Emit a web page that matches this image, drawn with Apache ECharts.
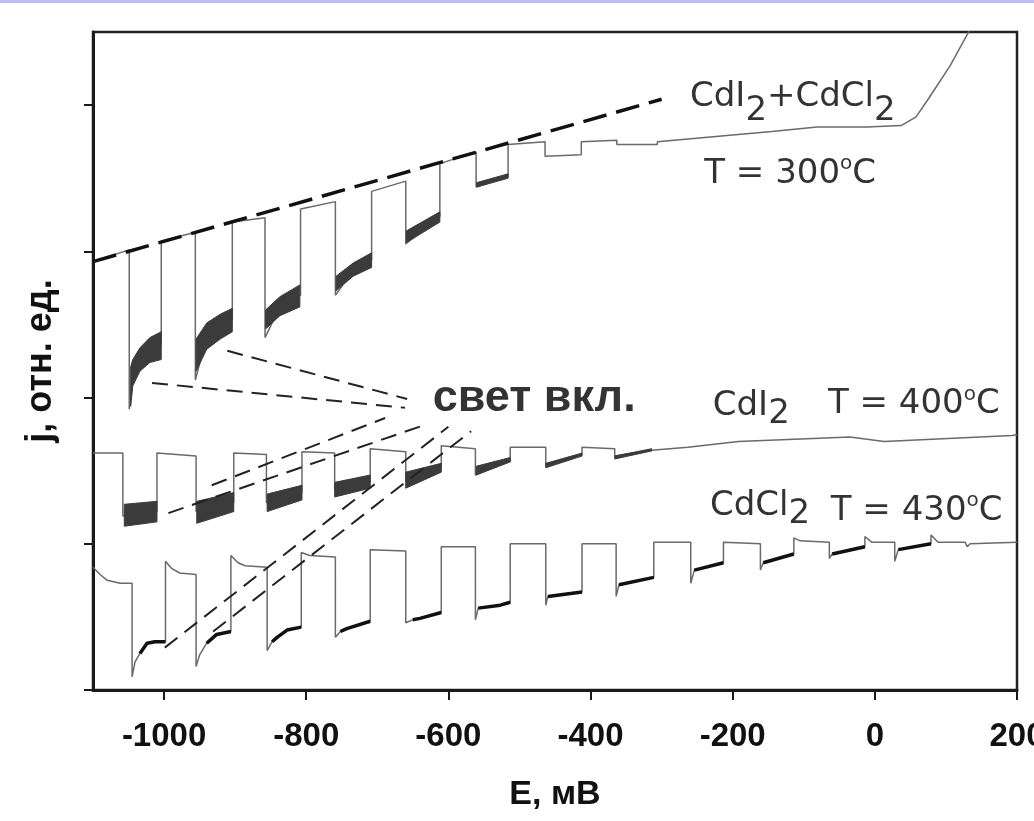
<!DOCTYPE html>
<html>
<head>
<meta charset="utf-8">
<script src="https://cdn.jsdelivr.net/npm/echarts@6/dist/echarts.min.js"></script>
<style>
  html, body { margin: 0; padding: 0; background: #fff; }
  #chart { width: 1034px; height: 821px; }
</style>
</head>
<body>
<div id="chart"></div>
<script>
// axis ticks
var xTicks = [-1000, -800, -600, -400, -200, 0, 200];
var yTicks = [0, 1, 2, 3, 4];

// CdI2+CdCl2, T = 300°C  (E, j)
var trace300 = [[-1100, 2.93], [-1049, 3.01], [-1049, 1.92], [-1044, 2.17], [-1034, 2.26], [-1020, 2.33],
  [-1004, 2.36], [-1004, 3.07], [-956, 3.13], [-956, 2.12], [-940, 2.42], [-921, 2.49], [-904, 2.53],
  [-904, 3.20], [-858, 3.23], [-858, 2.41], [-837, 2.62], [-808, 2.70], [-808, 3.29], [-759, 3.34],
  [-759, 2.70], [-734, 2.87], [-708, 2.94], [-708, 3.41], [-660, 3.48], [-660, 3.05], [-612, 3.24],
  [-612, 3.60], [-561, 3.68], [-561, 3.44], [-516, 3.51], [-516, 3.73], [-464, 3.75], [-464, 3.65],
  [-413, 3.66], [-413, 3.75], [-363, 3.76], [-363, 3.73], [-306, 3.73], [-306, 3.75], [-145, 3.82],
  [-81, 3.85], [-11, 3.85], [37, 3.86], [58, 3.92], [75, 4.04], [106, 4.27], [133, 4.51], [148, 4.64]];
// light-on noise bands: [E, low, high]
var bands300 = [
  [[-1047, 1.94, 2.21], [-1044, 2.08, 2.26], [-1034, 2.18, 2.34], [-1020, 2.24, 2.41], [-1004, 2.26, 2.45]],
  [[-955, 2.18, 2.40], [-940, 2.33, 2.51], [-921, 2.40, 2.57], [-904, 2.45, 2.61]],
  [[-857, 2.47, 2.60], [-837, 2.56, 2.69], [-809, 2.62, 2.77]],
  [[-758, 2.73, 2.83], [-734, 2.83, 2.92], [-708, 2.89, 2.99]],
  [[-659, 3.06, 3.14], [-612, 3.20, 3.27]],
  [[-560, 3.44, 3.47], [-516, 3.50, 3.53]]
];
var envelope300 = [[-1100, 2.93], [-300, 4.04]];

// CdI2, T = 400°C
var trace400 = [[-1100, 1.62], [-1058, 1.62], [-1058, 1.19], [-1010, 1.22], [-1010, 1.62], [-955, 1.60],
  [-955, 1.22], [-902, 1.28], [-902, 1.62], [-856, 1.61], [-856, 1.28], [-806, 1.35], [-806, 1.63],
  [-760, 1.62], [-760, 1.37], [-710, 1.42], [-710, 1.65], [-660, 1.63], [-660, 1.43], [-610, 1.52],
  [-610, 1.67], [-562, 1.65], [-562, 1.47], [-513, 1.57], [-513, 1.66], [-463, 1.66], [-463, 1.54],
  [-412, 1.61], [-412, 1.66], [-366, 1.65], [-366, 1.60], [-314, 1.64], [-263, 1.66], [-192, 1.70],
  [-35, 1.73], [13, 1.70], [193, 1.74], [200, 1.745]];
var bands400 = [
  [[-1056, 1.12, 1.27], [-1010, 1.15, 1.29]],
  [[-954, 1.14, 1.29], [-902, 1.22, 1.35]],
  [[-855, 1.22, 1.34], [-806, 1.30, 1.40]],
  [[-760, 1.32, 1.42], [-710, 1.38, 1.47]],
  [[-660, 1.38, 1.49], [-610, 1.49, 1.55]],
  [[-561, 1.47, 1.53], [-513, 1.56, 1.59]],
  [[-463, 1.52, 1.55], [-412, 1.60, 1.62]],
  [[-366, 1.58, 1.60], [-314, 1.635, 1.65]]
];

// CdCl2, T = 430°C
var trace430 = [[-1100, 0.84], [-1090, 0.79], [-1080, 0.75], [-1062, 0.73], [-1045, 0.73], [-1045, 0.09],
  [-1041, 0.19], [-1034, 0.25], [-1024, 0.32], [-1013, 0.33], [-998, 0.33], [-998, 0.88], [-989, 0.83],
  [-978, 0.80], [-955, 0.79], [-955, 0.16], [-950, 0.24], [-940, 0.32], [-926, 0.38], [-906, 0.40],
  [-906, 0.92], [-896, 0.87], [-886, 0.85], [-855, 0.84], [-855, 0.27], [-848, 0.33], [-841, 0.36],
  [-827, 0.41], [-807, 0.43], [-807, 0.94], [-795, 0.92], [-759, 0.91], [-759, 0.36], [-752, 0.40],
  [-743, 0.42], [-710, 0.47], [-710, 0.96], [-660, 0.95], [-660, 0.46], [-650, 0.48], [-640, 0.49],
  [-610, 0.53], [-610, 0.98], [-562, 0.98], [-562, 0.48], [-558, 0.56], [-527, 0.58], [-513, 0.60],
  [-513, 1.00], [-463, 1.00], [-463, 0.58], [-460, 0.64], [-412, 0.67], [-412, 1.00], [-364, 1.00],
  [-364, 0.64], [-360, 0.72], [-311, 0.77], [-311, 1.01], [-259, 1.01], [-259, 0.73], [-254, 0.82],
  [-213, 0.87], [-213, 1.01], [-161, 1.00], [-161, 0.82], [-157, 0.87], [-114, 0.93], [-114, 1.04],
  [-105, 1.02], [-64, 1.01], [-64, 0.90], [-60, 0.93], [-14, 0.98], [-14, 1.05], [-4, 1.01], [28, 1.01],
  [28, 0.88], [33, 0.96], [79, 1.00], [79, 1.06], [89, 1.01], [127, 1.01], [130, 0.98], [134, 1.00],
  [200, 1.01]];
// light-on parts (drawn heavier)
var lit430 = [
  [[-1034, 0.25], [-1024, 0.32], [-1013, 0.33], [-998, 0.33]],
  [[-940, 0.32], [-926, 0.38], [-906, 0.40]],
  [[-848, 0.33], [-841, 0.36], [-827, 0.41], [-807, 0.43]],
  [[-752, 0.40], [-743, 0.42], [-710, 0.47]],
  [[-650, 0.48], [-640, 0.49], [-610, 0.53]],
  [[-558, 0.56], [-527, 0.58], [-513, 0.60]],
  [[-460, 0.64], [-412, 0.67]],
  [[-360, 0.72], [-311, 0.77]],
  [[-254, 0.82], [-213, 0.87]],
  [[-157, 0.87], [-114, 0.93]],
  [[-60, 0.93], [-14, 0.98]],
  [[33, 0.96], [79, 1.00]]
];

// dashed pointers to "свет вкл."
var pointers = [
  [[-911, 2.32], [-658, 1.99]],
  [[-1017, 2.10], [-661, 1.93]],
  [[-933, 1.40], [-689, 1.86]],
  [[-994, 1.21], [-629, 1.82]],
  [[-999, 0.29], [-600, 1.80]],
  [[-931, 0.40], [-568, 1.77]]
];

var labels = [
  { pos: [-260, 4.055], text: '{t|CdI}{s|2}{t|+CdCl}{s|2}' },
  { pos: [-240, 3.527], text: '{t|T = 300}{o|o}{t|C}' },
  { pos: [-622, 1.99], text: '{b|свет вкл.}' },
  { pos: [-228, 1.938], text: '{t|CdI}{s2|2}' },
  { pos: [-66, 1.952], text: '{t|T = 400}{o|o}{t|C}' },
  { pos: [-232, 1.260], text: '{t|CdCl}{s2|2}' },
  { pos: [-62, 1.226], text: '{t|T = 430}{o|o}{t|C}' }
];

var FONT = 'Liberation Sans, Arial, sans-serif';
var LFONT = 'DejaVu Sans, sans-serif';
var ink = '#000';

function bandSeries(bands, color) {
  return {
    type: 'custom',
    silent: true,
    z: 3,
    data: bands.map(function (b) { return [b[0][0], b[0][2]]; }),
    renderItem: function (params, api) {
      var b = bands[params.dataIndex];
      var pts = [];
      b.forEach(function (p) { pts.push(api.coord([p[0], p[2]])); });
      for (var k = b.length - 1; k >= 0; k--) pts.push(api.coord([b[k][0], b[k][1]]));
      return { type: 'polygon', shape: { points: pts }, style: { fill: color, stroke: color, lineWidth: 1 } };
    }
  };
}

function thin(data) {
  return { type: 'line', data: data, showSymbol: false, silent: true, z: 2,
    lineStyle: { color: '#6a6a6a', width: 1.5 } };
}

var series = [
  thin(trace300), bandSeries(bands300, '#3b3b3b'),
  { type: 'line', data: envelope300, showSymbol: false, silent: true, z: 4,
    lineStyle: { color: '#111', width: 3.5, type: [24, 10] } },
  thin(trace400), bandSeries(bands400, '#3b3b3b'),
  thin(trace430)
];
lit430.forEach(function (seg) {
  series.push({ type: 'line', data: seg, showSymbol: false, silent: true, z: 3,
    lineStyle: { color: '#111', width: 3.5 } });
});
pointers.forEach(function (seg) {
  series.push({ type: 'line', data: seg, showSymbol: false, silent: true, z: 4,
    lineStyle: { color: '#222', width: 2, type: [16, 9] } });
});
series.push({
  type: 'scatter', symbolSize: 0, silent: true, z: 6,
  data: labels.map(function (l) { return { value: l.pos, label: { formatter: l.text } }; }),
  label: {
    show: true, position: 'right', distance: 0,
    rich: {
      t: { fontFamily: LFONT, fontSize: 34, color: ink },
      s: { fontFamily: LFONT, fontSize: 34, color: ink, padding: [28, 0, 0, 0] },
      s2: { fontFamily: LFONT, fontSize: 34, color: ink, padding: [16, 0, 0, 0] },
      o: { fontFamily: LFONT, fontSize: 20, color: ink, padding: [0, 0, 20, 0] },
      b: { fontFamily: FONT, fontSize: 45, fontWeight: 'bold', color: ink }
    }
  }
});

var chart = echarts.init(document.getElementById('chart'));
chart.setOption({
  animation: false,
  backgroundColor: '#fff',
  graphic: [{ type: 'rect', left: 0, top: 0, shape: { width: 1034, height: 3 }, style: { fill: '#bdbdf6' } }],
  grid: { left: 93, right: 17, top: 32, bottom: 131, outerBoundsMode: 'none',
    show: true, borderColor: '#222', borderWidth: 2.5 },
  xAxis: {
    type: 'value', min: -1100, max: 200,
    axisLine: { show: true, onZero: false, lineStyle: { color: '#1a1a1a', width: 3 } },
    axisTick: { show: true, customValues: xTicks, length: 10, lineStyle: { color: '#1a1a1a', width: 2 } },
    axisLabel: { customValues: xTicks, fontFamily: FONT, fontSize: 33, fontWeight: 'bold', color: '#111', margin: 30,
      formatter: function (v) { return String(v); } },
    splitLine: { show: false },
    name: 'E, мВ', nameLocation: 'middle', nameGap: 88,
    nameTextStyle: { fontFamily: FONT, fontSize: 34, fontWeight: 'bold', color: '#111' }
  },
  yAxis: {
    type: 'value', min: 0, max: 4.5,
    axisLine: { show: true, onZero: false, lineStyle: { color: '#1a1a1a', width: 3 } },
    axisTick: { show: true, customValues: yTicks, length: 9, lineStyle: { color: '#1a1a1a', width: 2 } },
    axisLabel: { show: false },
    splitLine: { show: false },
    name: 'j, отн. ед.', nameLocation: 'middle', nameGap: 34,
    nameTextStyle: { fontFamily: FONT, fontSize: 36, fontWeight: 'bold', color: '#111' }
  },
  series: series
});
</script>
</body>
</html>
